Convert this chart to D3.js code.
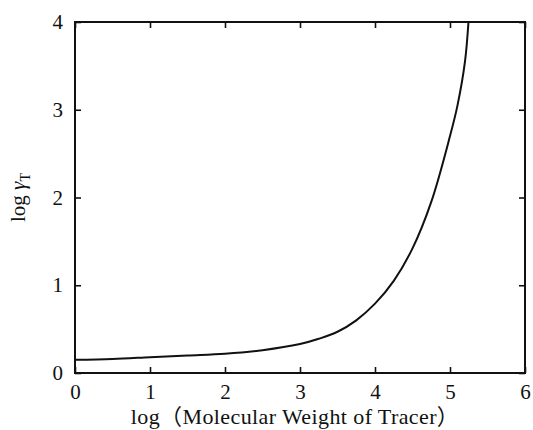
<!DOCTYPE html>
<html>
<head>
<meta charset="utf-8">
<script src="https://cdn.jsdelivr.net/npm/d3@7"></script>
<style>
  body { margin: 0; background: #fff; }
  svg text { font-family: "Liberation Serif", "DejaVu Serif", "Noto Sans CJK JP", serif; fill: #111; }
  .axis line { stroke: #111; stroke-width: 1.6; }
  .axis .domain { display: none; }
</style>
</head>
<body>
<div id="chart"></div>
<script>
// log(Molecular Weight of Tracer) vs log gamma_T
var logMW = [0, 0.5, 1, 1.5, 2, 2.5, 3, 3.25, 3.5, 3.75, 4, 4.25, 4.5, 4.75, 5, 5.1, 5.2, 5.25];
var logGamma = [0.15, 0.16, 0.18, 0.20, 0.22, 0.26, 0.33, 0.39, 0.47, 0.60, 0.79, 1.05, 1.42, 1.95, 2.70, 3.05, 3.55, 4.05];
var xTicks = [0, 1, 2, 3, 4, 5, 6];
var yTicks = [0, 1, 2, 3, 4];

var data = logMW.map(function(d, i) { return {x: d, y: logGamma[i]}; });

var margin = {top: 22, right: 8, bottom: 57, left: 75},
    width = 533 - margin.left - margin.right,
    height = 430 - margin.top - margin.bottom;

var x = d3.scaleLinear().domain([0, 6]).range([0, width]);
var y = d3.scaleLinear().domain([0, 4]).range([height, 0]);

var svg = d3.select('#chart')
    .append('svg')
    .attr('width', 533)
    .attr('height', 430)
    .append('g')
    .attr('transform', 'translate(' + margin.left + ',' + margin.top + ')');

// inward ticks on all four sides
svg.append('g')
    .attr('class', 'axis')
    .attr('transform', 'translate(0,' + height + ')')
    .call(d3.axisBottom(x).tickValues(xTicks).tickFormat(d3.format('d'))
      .tickSizeInner(-6).tickSizeOuter(0).tickPadding(11))
    .selectAll('text').style('font-size', '21px');

svg.append('g')
    .attr('class', 'axis')
    .call(d3.axisTop(x).tickValues(xTicks).tickSizeInner(-6).tickSizeOuter(0).tickFormat(''));

svg.append('g')
    .attr('class', 'axis')
    .call(d3.axisLeft(y).tickValues(yTicks).tickFormat(d3.format('d'))
      .tickSizeInner(-6).tickSizeOuter(0).tickPadding(12))
    .selectAll('text').style('font-size', '21px');

svg.append('g')
    .attr('class', 'axis')
    .attr('transform', 'translate(' + width + ',0)')
    .call(d3.axisRight(y).tickValues(yTicks).tickSizeInner(-6).tickSizeOuter(0).tickFormat(''));

// frame
svg.append('rect')
    .attr('width', width)
    .attr('height', height)
    .attr('fill', 'none')
    .attr('stroke', '#111')
    .attr('stroke-width', 2);

svg.append('clipPath')
    .attr('id', 'clip')
    .append('rect')
    .attr('width', width)
    .attr('height', height);

var line = d3.line()
    .curve(d3.curveCatmullRom.alpha(0.5))
    .x(function(d) { return x(d.x); })
    .y(function(d) { return y(d.y); });

svg.append('path')
    .datum(data)
    .attr('clip-path', 'url(#clip)')
    .attr('fill', 'none')
    .attr('stroke', '#111')
    .attr('stroke-width', 2)
    .attr('d', line);

// x axis title
svg.append('text')
    .attr('x', width / 2 - 5)
    .attr('y', height + 51)
    .style('text-anchor', 'middle')
    .style('font-size', '22px')
    .style('letter-spacing', '0.4px')
    .text('log\uFF08Molecular Weight of Tracer\uFF09');

// y axis title
var yt = svg.append('text')
    .attr('transform', 'translate(' + (-50) + ',' + (y(2)) + ') rotate(-90)')
    .style('text-anchor', 'middle')
    .style('font-size', '21px');
yt.append('tspan').text('log  ');
yt.append('tspan').style('font-style', 'italic').text('\u03B3');
yt.append('tspan').attr('dy', 5).style('font-size', '14px').text('T');
</script>
</body>
</html>
